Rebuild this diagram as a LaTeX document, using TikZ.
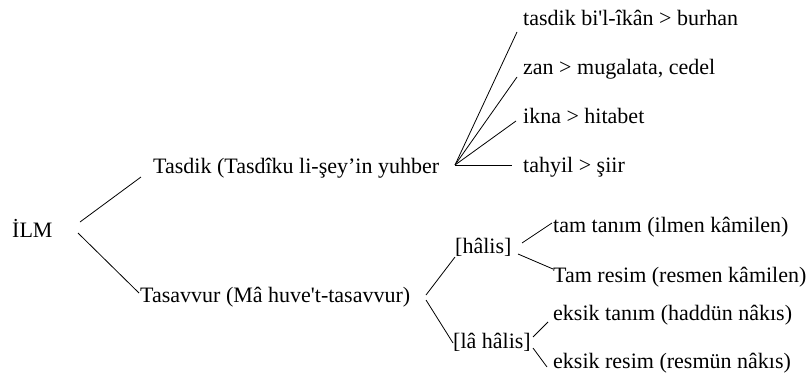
\documentclass[tikz,border=0pt]{standalone}
\usepackage{fontspec}
\setmainfont{Liberation Serif}
\begin{document}
\begin{tikzpicture}[x=1pt,y=-1pt,
  lbl/.style={anchor=west,inner sep=0pt,font=\fontsize{22}{26}\selectfont,text height=15pt,text depth=5pt},
  conn/.style={draw=black,line width=0.8pt}]
\useasboundingbox (0,0) rectangle (811,378);
\node[lbl] (ilm) at (12,232) {İLM};
\node[lbl] (tasdik) at (153,168) {Tasdik (Tasdîku li-şey’in yuhber};
\node[lbl] (tasavvur) at (140,297) {Tasavvur (Mâ huve\textquotesingle t-tasavvur)};
\node[lbl] (t1) at (523,20) {tasdik bi\textquotesingle l-îkân > burhan};
\node[lbl] (t2) at (523,69) {zan > mugalata, cedel};
\node[lbl] (t3) at (523,118) {ikna > hitabet};
\node[lbl] (t4) at (523,167) {tahyil > şiir};
\node[lbl] (halis) at (455,248) {[hâlis]};
\node[lbl] (lahalis) at (453,343) {[lâ hâlis]};
\node[lbl] (tt) at (553,227) {tam tanım (ilmen kâmilen)};
\node[lbl] (tr) at (553,277) {Tam resim (resmen kâmilen)};
\node[lbl] (et) at (553,315) {eksik tanım (haddün nâkıs)};
\node[lbl] (er) at (553,363) {eksik resim (resmün nâkıs)};
\coordinate (fan) at ([shift={(302,-3)}]tasdik.west);
\draw[conn] ([shift={(68,-10)}]ilm.west) -- ([shift={(-12,9)}]tasdik.west);
\draw[conn] ([shift={(66,1)}]ilm.west) -- ([shift={(-1,-4)}]tasavvur.west);
\draw[conn] (fan) -- ([shift={(-6,12)}]t1.west);
\draw[conn] (fan) -- ([shift={(-6,8)}]t2.west);
\draw[conn] (fan) -- ([shift={(-7,3)}]t3.west);
\draw[conn] (fan) -- ([shift={(-11,-2)}]t4.west);
\draw[conn] ([shift={(286,-2)}]tasavvur.west) -- ([shift={(0,9)}]halis.west);
\draw[conn] ([shift={(286,3)}]tasavvur.west) -- ([shift={(0,0)}]lahalis.west);
\draw[conn] ([shift={(67,-5)}]halis.west) -- ([shift={(-1,-4)}]tt.west);
\draw[conn] ([shift={(63,6)}]halis.west) -- ([shift={(0,-8)}]tr.west);
\draw[conn] ([shift={(80,-6)}]lahalis.west) -- ([shift={(-5,7)}]et.west);
\draw[conn] ([shift={(80,5)}]lahalis.west) -- ([shift={(-6,4)}]er.west);
\end{tikzpicture}
\end{document}
